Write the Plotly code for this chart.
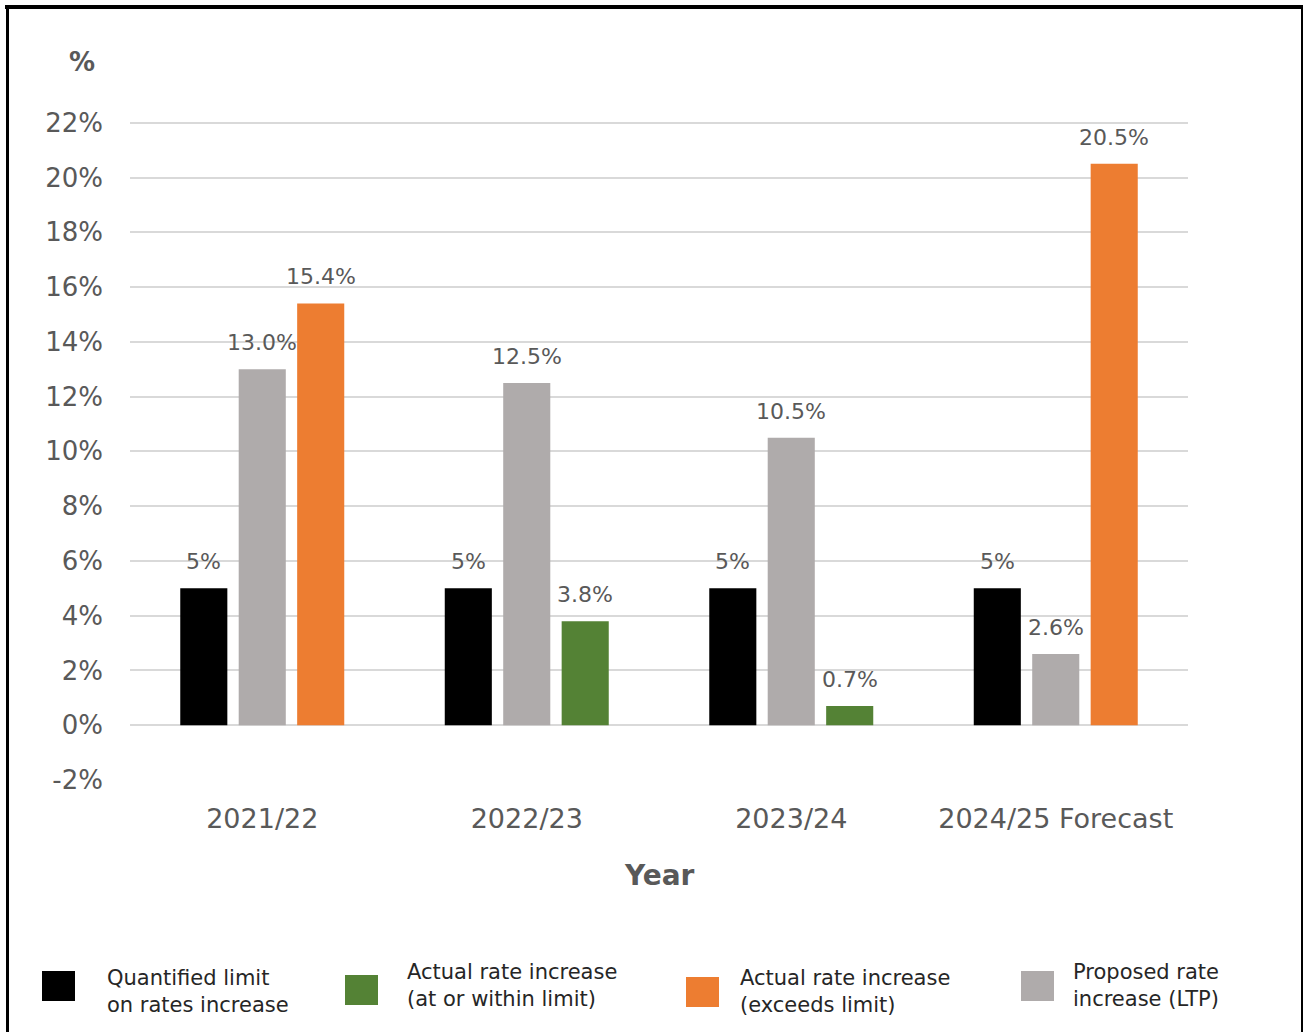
import plotly.graph_objects as go

# ---- data -------------------------------------------------------------
years = ["2021/22", "2022/23", "2023/24", "2024/25 Forecast"]
limit_pct = [5, 5, 5, 5]
proposed_pct = [13.0, 12.5, 10.5, 2.6]
actual_within_pct = [None, 3.8, 0.7, None]
actual_exceeds_pct = [15.4, None, None, 20.5]

series_names = [
    "Quantified limit<br>on rates increase",
    "Actual rate increase<br>(at or within limit)",
    "Actual rate increase<br>(exceeds limit)",
    "Proposed rate<br>increase (LTP)",
]
y_ticks = list(range(-2, 23, 2))

# ---- styling ----------------------------------------------------------
FONT = "Century Gothic, DejaVu Sans, sans-serif"
TXT = "#595959"
C_LIMIT = "#000000"
C_WITHIN = "#548235"
C_EXCEEDS = "#ED7D31"
C_PROPOSED = "#AFABAB"

W, H = 1305, 1032
Y_LO, Y_HI = -2, 22.1          # small headroom so the 22% gridline shows
PX_PER_UNIT = 27.375
ML, MR, MB = 130, 117, 252
MT = round(123 - (Y_HI - 22) * PX_PER_UNIT)
PW, PH = W - ML - MR, H - MT - MB

PITCH = 0.221      # slot spacing within a year group (category units)
BAR_W = 0.178      # bar width (category units)


def px_x(p):
    return (p - ML) / PW


def px_y(p):
    return (H - MB - p) / PH


def fmt(v, dec):
    return f"{v:.{dec}f}%"


fig = go.Figure()

# (values, colour, slot, decimals)
bar_specs = [
    (limit_pct, C_LIMIT, -1, 0),
    (proposed_pct, C_PROPOSED, 0, 1),
    (actual_within_pct, C_WITHIN, 1, 1),
    (actual_exceeds_pct, C_EXCEEDS, 1, 1),
]

annotations = []
for vals, col, slot, dec in bar_specs:
    fig.add_trace(go.Bar(
        x=years, y=vals,
        width=BAR_W, offset=slot * PITCH - BAR_W / 2,
        marker=dict(color=col, line=dict(width=0)),
        showlegend=False, hoverinfo="skip",
    ))
    for i, v in enumerate(vals):
        if v is None:
            continue
        annotations.append(dict(
            x=i + slot * PITCH, y=v, xref="x", yref="y",
            text=fmt(v, dec), showarrow=False,
            yanchor="bottom", yshift=12,
            font=dict(family=FONT, size=22, color=TXT),
        ))

# axis titles
annotations.append(dict(
    x=px_x(82), y=px_y(62), xref="paper", yref="paper",
    text="<b>%</b>", showarrow=False, xanchor="center", yanchor="middle",
    font=dict(family=FONT, size=26, color=TXT),
))
annotations.append(dict(
    x=0.5, y=px_y(875), xref="paper", yref="paper",
    text="<b>Year</b>", showarrow=False, xanchor="center", yanchor="middle",
    font=dict(family=FONT, size=28, color=TXT),
))

# legend: swatch left edge, swatch centre y, text left edge, text centre y
legend_colors = [C_LIMIT, C_WITHIN, C_EXCEEDS, C_PROPOSED]
legend_pos = [(42, 986, 105, 991), (345, 990, 405, 985),
              (686, 992, 738, 991), (1021, 986, 1071, 986)]
shapes = []
for name, col, (sx, sy, tx, ty) in zip(series_names, legend_colors, legend_pos):
    shapes.append(dict(
        type="rect", xref="paper", yref="paper",
        x0=px_x(sx), x1=px_x(sx + 33), y0=px_y(sy - 15), y1=px_y(sy + 15),
        fillcolor=col, line=dict(width=0),
    ))
    annotations.append(dict(
        x=px_x(tx), y=px_y(ty), xref="paper", yref="paper",
        text=name, showarrow=False, xanchor="left", yanchor="middle",
        align="left",
        font=dict(family=FONT, size=21, color="#262626"),
    ))

# outer frame
shapes += [
    dict(type="line", xref="paper", yref="paper", x0=px_x(5), x1=px_x(1303),
         y0=px_y(7), y1=px_y(7), line=dict(color="#000", width=4)),
    dict(type="line", xref="paper", yref="paper", x0=px_x(7.5), x1=px_x(7.5),
         y0=px_y(5), y1=px_y(1040), line=dict(color="#000", width=3)),
    dict(type="line", xref="paper", yref="paper", x0=px_x(1302), x1=px_x(1302),
         y0=px_y(5), y1=px_y(1040), line=dict(color="#000", width=2)),
]

fig.update_layout(
    width=W, height=H,
    margin=dict(l=ML, r=MR, t=MT, b=MB),
    paper_bgcolor="white", plot_bgcolor="white",
    barmode="overlay",
    showlegend=False,
    annotations=annotations,
    shapes=shapes,
    font=dict(family=FONT, color=TXT),
)
fig.update_xaxes(
    type="category", range=[-0.5, len(years) - 0.5],
    showgrid=False, showline=False, zeroline=False,
    ticks="", ticklabelstandoff=20,
    tickfont=dict(family=FONT, size=27, color=TXT),
)
fig.update_yaxes(
    range=[Y_LO, Y_HI], tickvals=y_ticks, ticktext=[f"{t}%" for t in y_ticks],
    showgrid=True, gridcolor="#D9D9D9", gridwidth=2,
    zeroline=False, showline=False, ticks="", ticklabelstandoff=26,
    tickfont=dict(family=FONT, size=26, color=TXT),
)

fig.write_html("out.html")
